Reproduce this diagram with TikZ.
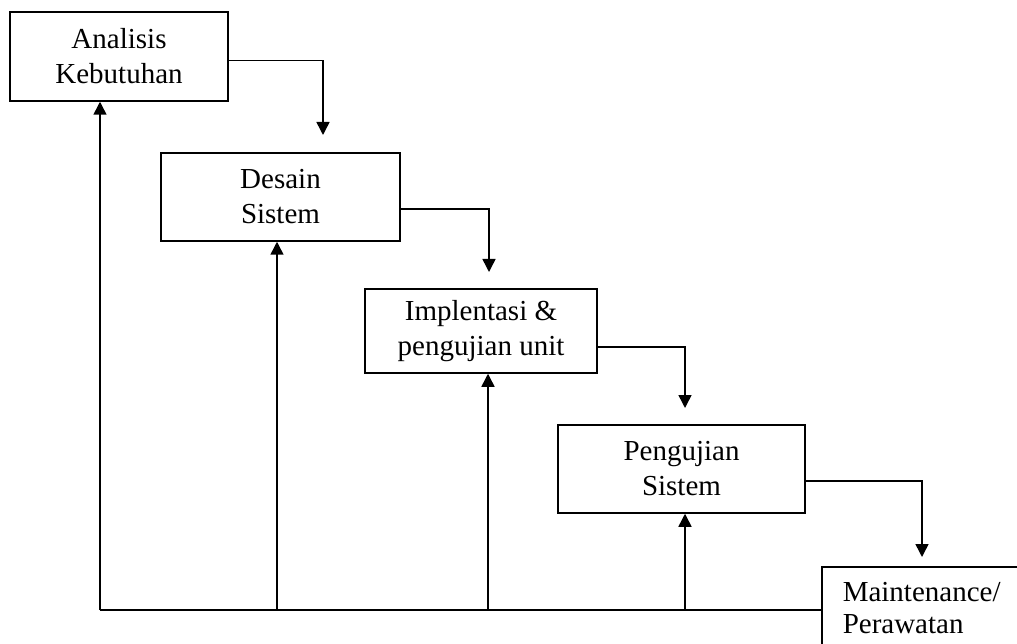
\documentclass[tikz,border=0pt]{standalone}
\usepackage{fontspec}
\setmainfont{Liberation Serif}
\usetikzlibrary{
  arrows.meta, % For arrow tips
  positioning
}

\begin{document}
\begin{tikzpicture}[
      x=1pt, y=-1pt, % pixel-like coordinates, y downwards
      line width=1.5pt, % Default line thickness
      >={Triangle[length=13pt, width=13pt]}, % Default arrow tip
      tahap/.style={draw, align=center, inner sep=0pt,
        font=\fontsize{29}{35}\selectfont}, % Style for phase boxes
      alur/.style={->}, % Style for flow arrows
    ]
    \useasboundingbox (0,0) rectangle (1017,644);

    % Tahapan
    \node[tahap, minimum width=218pt, minimum height=89pt] (analisis) at (119,56.5) {Analisis\\Kebutuhan};
    \node[tahap, minimum width=239pt, minimum height=88pt] (desain) at (280.5,197) {Desain\\Sistem};
    \node[tahap, minimum width=232pt, minimum height=84pt] (implementasi) at (481,331) {Implentasi \&\\pengujian unit};
    \node[tahap, minimum width=247pt, minimum height=88pt] (pengujian) at (681.5,469) {Pengujian\\Sistem};
    % kotak terakhir terpotong di tepi gambar
    \node[tahap, draw=none, anchor=north west, align=left, text width=240pt,
      inner xsep=20pt, inner ysep=15pt, font=\fontsize{29}{32}\selectfont] (rawat) at (822,567) {Maintenance/\\Perawatan};
    \draw (rawat.south west) -- (rawat.north west) -- (rawat.north east);

    % Ujung panah ke bawah
    \coordinate (t1) at (323,135);
    \coordinate (t2) at (489,272);
    \coordinate (t3) at (685,408);
    \coordinate (t4) at (922,557);

    % Alur ke tahap berikutnya
    \draw[alur] ([yshift=-4pt]analisis.east) -| (t1);
    \draw[alur] ([yshift=-12pt]desain.east) -| (t2);
    \draw[alur] ([yshift=-16pt]implementasi.east) -| (t3);
    \draw[alur] ([yshift=-12pt]pengujian.east) -| (t4);

    % Umpan balik
    \coordinate (k0) at (100,610);
    \draw (k0) -- (k0 -| rawat.west);
    \foreach \x/\n in {100/analisis, 277/desain, 488/implementasi, 685/pengujian}
    \draw[alur] (\x,610) -- (\x,610 |- \n.south);
  \end{tikzpicture}
\end{document}
